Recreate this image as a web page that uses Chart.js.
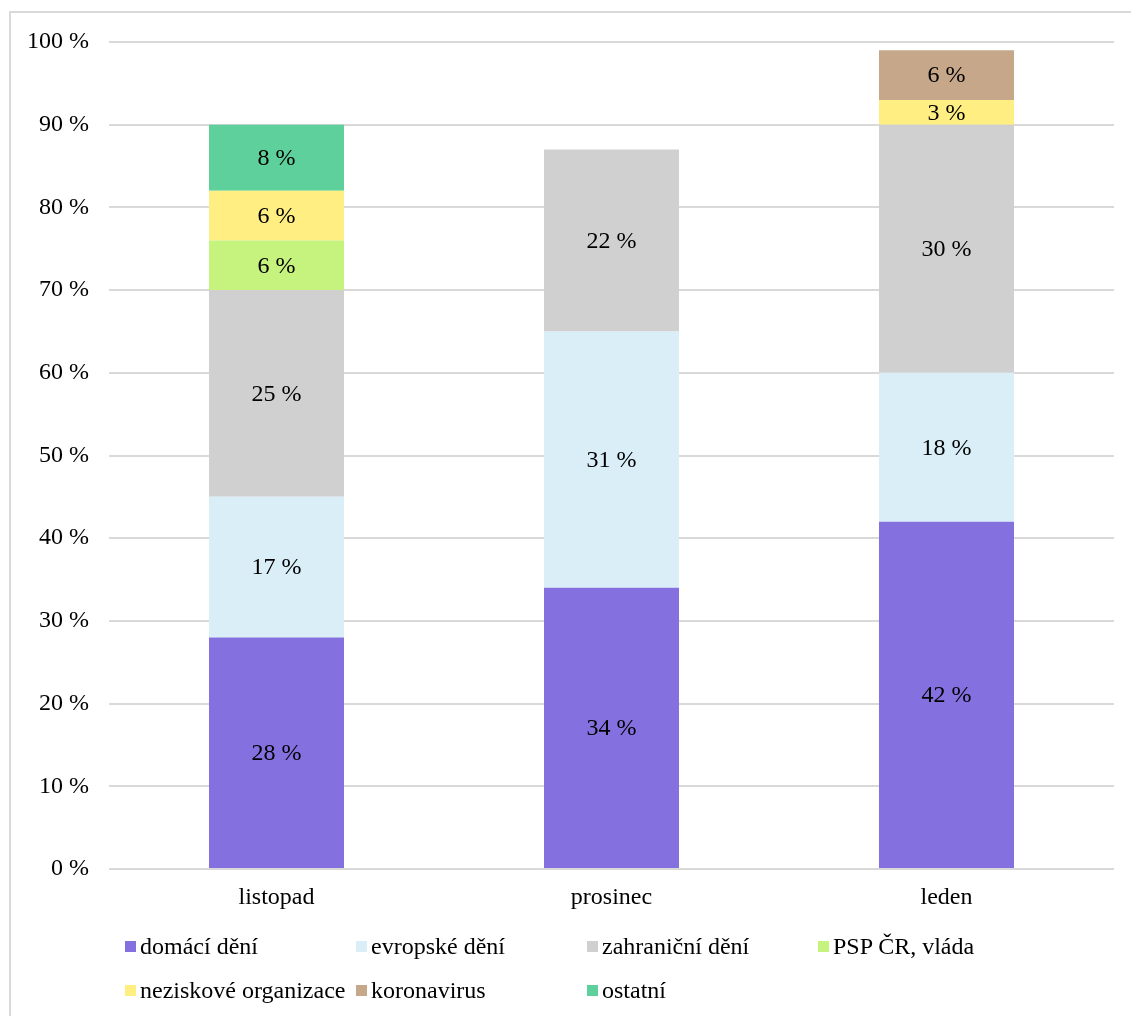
<!DOCTYPE html>
<html>
<head>
<meta charset="utf-8">
<script src="https://cdn.jsdelivr.net/npm/chart.js@4.4.1/dist/chart.umd.min.js"></script>
<style>
    body { margin: 0; background: #fff; }
    #wrap { position: relative; width: 1131px; height: 1016px; overflow: hidden; }
    #frame { position: absolute; left: 9px; top: 11px; width: 1200px; height: 1100px;
             border-top: 2px solid #d9d9d9; border-left: 2px solid #d9d9d9; box-sizing: border-box; }
    #myChart { position: absolute; left: 0; top: 0; }
    #legend { position: absolute; left: 125px; top: 931px; display: grid;
              grid-template-columns: repeat(4, 231px); row-gap: 14px;
              font-family: "Liberation Serif", "Times New Roman", serif; font-size: 24px; color: #000; }
    .item { display: flex; align-items: center; height: 30px; white-space: nowrap; }
    .box { width: 11px; height: 11px; margin-right: 4px; flex: none; }
</style>
</head>
<body>
<div id="wrap">
    <div id="frame"></div>
    <canvas id="myChart" width="1131" height="1016"></canvas>
    <div id="legend"></div>
</div>
<script>
const months = ["listopad", "prosinec", "leden"];
const seriesNames = ["domácí dění", "evropské dění", "zahraniční dění", "PSP ČR, vláda",
    "neziskové organizace", "koronavirus", "ostatní"];
const domaci = [28, 34, 42];
const evropske = [17, 31, 18];
const zahranicni = [25, 22, 30];
const pspVlada = [6, 0, 0];
const neziskove = [6, 0, 3];
const koronavirus = [0, 0, 6];
const ostatni = [8, 0, 0];
const yTicks = [0, 10, 20, 30, 40, 50, 60, 70, 80, 90, 100];

const colors = ["#8470df", "#daeef8", "#d0d0d0", "#c6f27e", "#ffee82", "#c6a789", "#5ed09b"];
const values = [domaci, evropske, zahranicni, pspVlada, neziskove, koronavirus, ostatni];
const font = "Liberation Serif";

// popisky uvnitř segmentů
const segmentLabels = {
    id: "segmentLabels",
    afterDatasetsDraw(chart) {
        const ctx = chart.ctx;
        ctx.save();
        ctx.font = "24px '" + font + "'";
        ctx.fillStyle = "#000";
        ctx.textAlign = "center";
        ctx.textBaseline = "middle";
        chart.data.datasets.forEach((ds, i) => {
            const meta = chart.getDatasetMeta(i);
            meta.data.forEach((bar, j) => {
                const v = ds.data[j];
                if (!v) return;
                ctx.fillText(v + " %", bar.x, (bar.y + bar.base) / 2 + 1);
            });
        });
        ctx.restore();
    }
};

const info = {
    labels: months,
    datasets: seriesNames.map((name, i) => ({
        label: name,
        data: values[i],
        backgroundColor: colors[i],
        barPercentage: 0.403,
        categoryPercentage: 1.0,
    }))
};

const config = {
    type: "bar",
    data: info,
    options: {
        responsive: false,
        animation: false,
        layout: { padding: { top: 42, right: 17, bottom: 102, left: 0 } },
        scales: {
            x: {
                stacked: true,
                grid: { display: false, drawTicks: false },
                border: { display: false },
                ticks: { color: "#000", font: { family: font, size: 24 }, padding: 14 },
                afterFit: axis => { axis.height = 45; },
            },
            y: {
                stacked: true,
                min: 0,
                max: 100,
                afterBuildTicks: axis => { axis.ticks = yTicks.map(v => ({ value: v })); },
                grid: { color: "#d9d9d9", lineWidth: 2, drawTicks: false },
                border: { display: false },
                ticks: {
                    color: "#000",
                    font: { family: font, size: 24 },
                    padding: 20,
                    callback: v => v + " %",
                },
                afterFit: axis => { axis.width = 109; },
            },
        },
        plugins: {
            legend: { display: false },
            tooltip: { enabled: false },
        }
    },
    plugins: [segmentLabels]
};

let expensesChart = new Chart("myChart", config);

const legendEl = document.getElementById("legend");
seriesNames.forEach((name, i) => {
    const item = document.createElement("div");
    item.className = "item";
    item.innerHTML = '<span class="box" style="background:' + colors[i] + '"></span><span>' + name + '</span>';
    legendEl.appendChild(item);
});
</script>
</body>
</html>
